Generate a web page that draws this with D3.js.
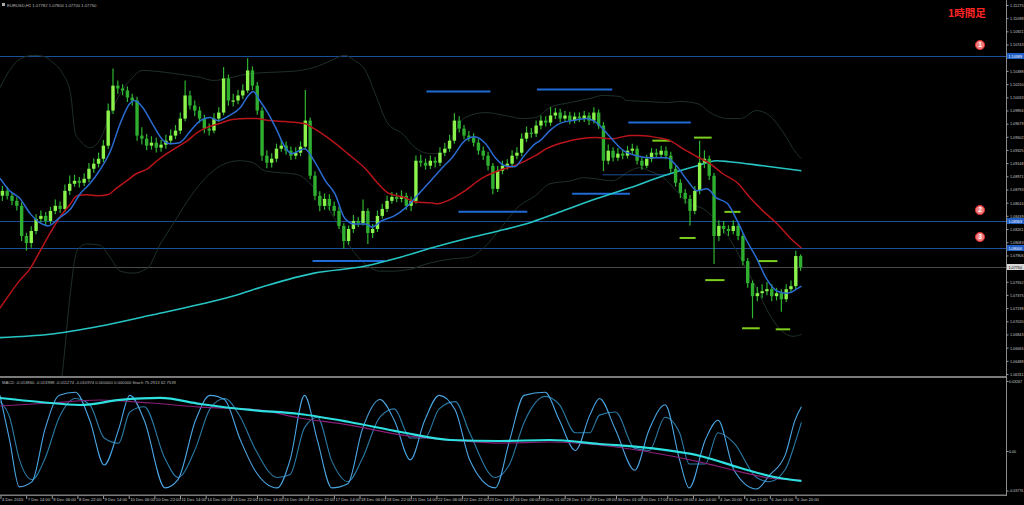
<!DOCTYPE html>
<html><head><meta charset="utf-8">
<script src="https://cdn.jsdelivr.net/npm/d3@7"></script>
<style>html,body{margin:0;padding:0;background:#000;overflow:hidden}</style>
</head><body><svg id="c" width="1024" height="505"></svg>
<script>
// ---------- DATA ----------
const symbolTitle = "EURUSD,H1  1.07782 1.07800 1.07700 1.07750";
const macdTitle = "MACD -0.013860 -0.013998 -0.011274 -0.010974 0.000000 0.000000  Stoch 75.2913 62.7539";
const timeframeText = "1時間足";
const barHours = 3;
const firstOpen = 1.0871;
const closes = [1.08775,1.08708,1.0864,1.08573,1.08168,1.08073,1.08235,1.08397,1.08438,1.0837,
1.08505,1.08573,1.08532,1.08775,1.0887,1.0891,1.08883,1.08937,1.09072,1.0914,
1.09207,1.09383,1.09855,1.1019,1.10152,1.10125,1.1003,1.0999,1.09518,1.09477,
1.09383,1.09423,1.09356,1.09396,1.0945,1.09518,1.09585,1.09747,1.10058,1.09923,
1.09855,1.09747,1.09612,1.09585,1.09747,1.09828,1.10287,1.0999,1.0999,1.10058,
1.10125,1.10395,1.1019,1.09855,1.09248,1.09153,1.09207,1.09342,1.09383,1.09315,
1.09248,1.09288,1.09369,1.0972,1.08978,1.08708,1.08573,1.08667,1.08573,1.08505,
1.08303,1.081,1.08262,1.0837,1.08343,1.08505,1.08208,1.08262,1.08438,1.08532,
1.0864,1.08694,1.08667,1.08708,1.08573,1.0864,1.0918,1.09153,1.09113,1.0918,
1.09153,1.09288,1.09342,1.0945,1.0972,1.09612,1.09518,1.09491,1.09423,1.09315,
1.09248,1.09113,1.08802,1.09045,1.09113,1.0914,1.09248,1.09288,1.09477,1.09558,
1.09545,1.09653,1.0972,1.09693,1.09788,1.09828,1.09747,1.09788,1.0972,1.09774,
1.09747,1.09788,1.0972,1.09828,1.09653,1.0918,1.09315,1.09221,1.09275,1.09248,
1.09315,1.09342,1.0918,1.09113,1.09207,1.09288,1.09261,1.09315,1.09248,1.09072,
1.08883,1.08748,1.08667,1.08505,1.08775,1.09153,1.09207,1.08978,1.08168,1.08303,
1.08262,1.08235,1.08303,1.08168,1.0783,1.07533,1.07358,1.07398,1.07425,1.07452,
1.07358,1.07398,1.07317,1.07452,1.07493,1.07898,1.0775];
const highs = [1.0884,1.0883,1.0876,1.0869,1.0862,1.0821,1.0830,1.0846,1.0851,1.0849,
1.0856,1.0866,1.0863,1.0886,1.0898,1.0899,1.0896,1.0901,1.0915,1.0921,
1.0929,1.0946,1.0995,1.1042,1.1026,1.1021,1.1018,1.1008,1.1004,1.0963,
1.0954,1.0951,1.0949,1.0946,1.0953,1.0960,1.0966,1.0983,1.1026,1.1012,
1.0999,1.0991,1.0980,1.0968,1.0982,1.0990,1.1044,1.1034,1.1008,1.1013,
1.1021,1.1056,1.1045,1.1024,1.0990,1.0932,1.0928,1.0941,1.0946,1.0944,
1.0937,1.0936,1.0944,1.1013,1.0976,1.0904,1.0877,1.0874,1.0873,1.0863,
1.0856,1.0834,1.0831,1.0845,1.0842,1.0866,1.0854,1.0833,1.0851,1.0860,
1.0871,1.0876,1.0875,1.0878,1.0875,1.0870,1.0925,1.0926,1.0921,1.0925,
1.0923,1.0936,1.0942,1.0953,1.0982,1.0978,1.0966,1.0958,1.0955,1.0947,
1.0937,1.0930,1.0915,1.0911,1.0918,1.0920,1.0932,1.0936,1.0955,1.0964,
1.0962,1.0972,1.0979,1.0978,1.0990,1.0989,1.0988,1.0985,1.0984,1.0983,
1.0983,1.0985,1.0983,1.0990,1.0987,1.0970,1.0940,1.0936,1.0935,1.0933,
1.0938,1.0941,1.0938,1.0923,1.0926,1.0935,1.0934,1.0938,1.0937,1.0930,
1.0912,1.0893,1.0880,1.0872,1.0884,1.0945,1.0932,1.0925,1.0902,1.0838,
1.0837,1.0831,1.0838,1.0834,1.0820,1.0787,1.0757,1.0748,1.0752,1.0755,
1.0752,1.0747,1.0745,1.0752,1.0757,1.0797,1.0792];
const lows = [1.0864,1.0866,1.0858,1.0851,1.0810,1.0797,1.0801,1.0819,1.0835,1.0831,
1.0833,1.0846,1.0848,1.0849,1.0872,1.0883,1.0882,1.0884,1.0889,1.0902,
1.0909,1.0916,1.0934,1.0981,1.1008,1.1006,1.0997,1.0992,1.0945,1.0940,
1.0932,1.0933,1.0929,1.0930,1.0934,1.0940,1.0947,1.0954,1.0971,1.0987,
1.0978,1.0969,1.0955,1.0952,1.0955,1.0970,1.0979,1.0992,1.0991,1.0994,
1.1001,1.1009,1.1013,1.0980,1.0918,1.0908,1.0909,1.0916,1.0930,1.0926,
1.0919,1.0920,1.0924,1.0933,1.0893,1.0865,1.0850,1.0852,1.0851,1.0844,
1.0826,1.0800,1.0805,1.0821,1.0829,1.0831,1.0806,1.0814,1.0822,1.0840,
1.0849,1.0860,1.0862,1.0862,1.0852,1.0850,1.0860,1.0910,1.0906,1.0907,
1.0909,1.0911,1.0924,1.0930,1.0941,1.0956,1.0947,1.0944,1.0937,1.0926,
1.0919,1.0905,1.0873,1.0876,1.0900,1.0906,1.0909,1.0920,1.0924,1.0943,
1.0949,1.0950,1.0960,1.0964,1.0965,1.0974,1.0970,1.0971,1.0967,1.0968,
1.0970,1.0970,1.0966,1.0968,1.0961,1.0904,1.0913,1.0917,1.0918,1.0920,
1.0921,1.0927,1.0913,1.0906,1.0908,1.0916,1.0922,1.0922,1.0920,1.0902,
1.0883,1.0868,1.0860,1.0831,1.0846,1.0873,1.0908,1.0892,1.0779,1.0810,
1.0820,1.0817,1.0819,1.0811,1.0777,1.0747,1.0706,1.0729,1.0733,1.0737,
1.0729,1.0730,1.0715,1.0728,1.0740,1.0745,1.0770];

// moving averages: [hour index, price]
const maFast = [[0,1.08945],[6,1.08775],[12,1.08681],[19,1.08465],[25,1.08343],[30,1.08303],[37,1.0841],[44,1.08532],[50,1.08735],[56,1.0887],[62,1.09045],[69,1.09315],[75,1.0968],[81,1.0995],[84,1.0999],[89,1.09896],[95,1.0968],[102,1.0945],[106,1.0941],[112,1.09423],[119,1.09585],[125,1.0972],[131,1.0976],[136,1.0972],[143,1.09788],[150,1.09896],[155,1.10058],[158,1.10112],[162,1.0999],[167,1.09828],[172,1.09626],[178,1.09356],[182,1.09275],[190,1.09342],[197,1.0914],[203,1.0891],[209,1.08735],[215,1.0841],[221,1.0833],[228,1.0833],[232,1.08289],[238,1.0837],[246,1.08438],[253,1.08546],[259,1.08681],[267,1.0887],[276,1.09086],[282,1.09221],[290,1.0945],[296,1.09504],[303,1.09409],[309,1.09221],[315,1.09113],[321,1.09099],[327,1.09248],[334,1.09409],[337,1.0945],[343,1.09585],[349,1.0968],[357,1.0972],[366,1.09747],[372,1.09693],[381,1.09491],[389,1.09315],[397,1.09248],[405,1.09221],[416,1.09221],[422,1.09113],[429,1.0891],[435,1.08775],[441,1.08802],[447,1.08681],[454,1.086],[460,1.0837],[466,1.081],[472,1.07871],[478,1.07601],[485,1.07425],[491,1.07398],[497,1.07452],[500,1.07493]];
const maMid = [[0,1.07196],[6,1.07385],[12,1.0756],[19,1.07735],[25,1.07965],[31,1.08195],[37,1.0841],[44,1.086],[48,1.08708],[54,1.08721],[61,1.08708],[67,1.08721],[73,1.08816],[79,1.0891],[85,1.09005],[92,1.09072],[98,1.0918],[104,1.09275],[110,1.09356],[117,1.0945],[123,1.09558],[129,1.09626],[137,1.0968],[145,1.09734],[154,1.09747],[160,1.09747],[168,1.0972],[178,1.09707],[190,1.0968],[196,1.09612],[207,1.0945],[217,1.09275],[228,1.09072],[236,1.0887],[242,1.08748],[253,1.08681],[259,1.08626],[269,1.08613],[273,1.086],[279,1.0864],[290,1.08775],[301,1.0895],[311,1.09045],[321,1.09113],[334,1.09248],[341,1.09342],[351,1.09423],[362,1.09477],[372,1.09491],[382,1.09477],[393,1.09518],[399,1.09518],[410,1.09491],[418,1.0945],[426,1.09342],[435,1.09234],[443,1.0914],[451,1.09005],[460,1.08883],[468,1.08681],[476,1.08505],[485,1.0833],[493,1.08141],[500,1.08006]];
const maSlow = [[0,1.068],[31,1.06845],[62,1.06953],[94,1.07101],[125,1.07249],[145,1.07358],[167,1.07506],[196,1.07668],[228,1.07763],[248,1.07871],[269,1.08006],[290,1.08127],[311,1.08235],[332,1.08357],[351,1.08505],[372,1.08667],[393,1.08816],[414,1.08978],[435,1.09113],[447,1.0918],[455,1.09167],[476,1.09113],[500,1.09045]];
const bbUpper = [[0,1.10166],[6,1.10395],[12,1.10544],[21,1.10598],[27,1.10584],[33,1.10503],[39,1.10355],[44,1.10085],[47,1.09545],[50,1.0945],[56,1.09356],[62,1.0945],[69,1.09815],[75,1.10085],[81,1.1026],[89,1.10395],[98,1.10382],[108,1.10355],[117,1.10328],[125,1.10301],[133,1.1026],[142,1.10287],[150,1.10328],[158,1.10355],[167,1.10368],[182,1.10382],[196,1.10436],[207,1.1053],[215,1.10598],[221,1.1053],[228,1.10395],[234,1.10085],[242,1.0968],[251,1.09545],[259,1.09356],[269,1.09275],[276,1.09275],[282,1.09491],[290,1.0976],[303,1.09828],[315,1.09788],[326,1.09747],[334,1.0976],[343,1.09896],[356,1.09963],[368,1.10017],[376,1.10058],[387,1.10044],[391,1.0999],[404,1.09977],[416,1.09963],[424,1.09977],[435,1.0995],[443,1.09828],[454,1.09747],[462,1.09747],[472,1.09855],[480,1.09788],[488,1.09585],[497,1.09275],[500,1.09207]];
const bbLower = [[34,1.0567],[39,1.06345],[44,1.07425],[48,1.07965],[54,1.0806],[62,1.08046],[69,1.07871],[75,1.07695],[83,1.07668],[92,1.07735],[100,1.0806],[108,1.0833],[117,1.0864],[125,1.0887],[133,1.09045],[142,1.09153],[150,1.0918],[158,1.09153],[165,1.09045],[186,1.08991],[193,1.08883],[206,1.08505],[218,1.08033],[228,1.07789],[237,1.07695],[246,1.07695],[256,1.07722],[268,1.07803],[281,1.07857],[293,1.07884],[303,1.08033],[312,1.08262],[324,1.08573],[334,1.08708],[343,1.0887],[356,1.0891],[364,1.08951],[372,1.08937],[382,1.0891],[393,1.09045],[399,1.09086],[405,1.09045],[414,1.08951],[422,1.08775],[430,1.086],[439,1.08532],[447,1.0837],[455,1.0814],[463,1.0783],[472,1.07466],[480,1.07115],[488,1.06885],[495,1.06818],[500,1.06845]];

// horizontal levels
const levelPrices = [1.10589, 1.08369, 1.08006];
const levelMarks = ["1", "2", "3"];
const currentPrice = 1.0775;
// short zone segments: [startHour, endHour, price]
const blueSegments = [[266,306,1.10112],[286,329,1.08492],[195,240,1.0783],[335,382,1.10139],[392,431,1.09693],[357,393,1.08735]];
const thinSegments = [[376,418,1.08991]];
const limeSegments = [[407,418,1.0945],[433,444,1.09491],[452,462,1.08492],[424,434,1.08141],[473,485,1.0783],[440,452,1.07574],[463,474,1.06926],[484,493,1.06912]];

// price axis ticks
const priceTicks = [1.11275,1.11098,1.10921,1.10743,1.10566,1.10388,1.10210,1.10033,1.09856,1.09679,1.09502,1.09325,1.09148,1.08971,1.08793,1.08616,1.08439,1.08261,1.08083,1.07906,1.07729,1.07552,1.07375,1.07198,1.07020,1.06843,1.06665,1.06488,1.06311];
const timeLabels = ["4 Dec 2015","7 Dec 14:00","8 Dec 06:00","8 Dec 22:00","9 Dec 14:00","10 Dec 06:00","10 Dec 22:00","11 Dec 14:00","14 Dec 06:00","14 Dec 22:00","15 Dec 14:00","16 Dec 06:00","16 Dec 22:00","17 Dec 14:00","18 Dec 06:00","18 Dec 22:00","21 Dec 14:00","22 Dec 06:00","22 Dec 22:00","23 Dec 14:00","24 Dec 06:00","28 Dec 01:00","28 Dec 17:00","29 Dec 09:00","30 Dec 01:00","30 Dec 17:00","31 Dec 09:00","4 Jan 04:00","4 Jan 20:00","5 Jan 12:00","6 Jan 04:00","6 Jan 20:00"];
const timeLabelStep = 16;

// oscillator panel
const macdMain = [[0,0.02475],[25,0.02288],[50,0.02148],[75,0.02382],[100,0.02475],[125,0.02195],[156,0.01915],[187,0.01728],[218,0.01354],[250,0.00887],[281,0.00514],[312,0.00467],[343,0.00514],[374,0.00327],[405,0.0014],[437,-0.00439],[462,-0.01493],[480,-0.02195],[500,-0.02634]];
const macdSignal = [[0,0.0210],[31,0.0224],[62,0.0238],[94,0.0224],[125,0.0205],[162,0.0191],[187,0.0154],[218,0.0121],[250,0.0075],[281,0.0051],[312,0.0037],[343,0.0042],[374,0.0028],[405,-0.0009],[437,-0.0097],[462,-0.0184],[480,-0.0237],[500,-0.0255]];
const stochK = [[0,91],[6,48],[12,3],[20,8],[28,58],[37,91],[47,94],[56,67],[65,24],[74,58],[81,91],[90,67],[103,2],[111,10],[122,67],[131,91],[140,87],[150,48],[159,19],[173,2],[181,29],[190,91],[198,48],[207,2],[217,6],[226,58],[237,87],[246,67],[256,29],[265,67],[274,91],[284,77],[293,29],[309,2],[318,48],[327,91],[340,94],[349,67],[359,38],[368,72],[374,88],[384,58],[396,19],[405,58],[415,82],[424,29],[430,2],[440,48],[448,67],[458,19],[472,1],[480,14],[490,34],[496,67],[500,80]];
const stochD = [[0,85],[6,70],[12,30],[20,10],[28,30],[37,70],[47,88],[56,82],[65,50],[74,45],[81,75],[90,80],[103,30],[111,12],[122,40],[131,78],[140,88],[150,70],[159,40],[173,12],[181,15],[190,60],[198,70],[207,28],[217,8],[226,30],[237,70],[246,78],[256,50],[265,50],[274,78],[284,85],[293,55],[309,12],[318,25],[327,65],[340,90],[349,82],[359,55],[368,55],[374,72],[384,75],[396,40],[405,38],[415,70],[424,55],[430,25],[440,25],[448,55],[458,45],[472,12],[480,8],[490,20],[496,45],[500,65]];
const oscTicks = [0.03267, 0, -0.03776];
const oscTickLabels = ["0.03267", "0.00", "-0.03776"];

// ---------- DRAW ----------
const svg = d3.select("#c");
const axisX = 1006;
svg.append("rect").attr("width",1024).attr("height",505).attr("fill","#000");
const defs = svg.append("defs");
defs.append("clipPath").attr("id","cm").append("rect").attr("x",0).attr("y",0).attr("width",axisX).attr("height",376);
defs.append("clipPath").attr("id","co").append("rect").attr("x",0).attr("y",379).attr("width",axisX).attr("height",115);

const x = d3.scaleLinear().domain([0, 501]).range([0, 803]);
const y = d3.scaleLinear().domain([1.06311, 1.11275]).range([374, 5]);
const yo = d3.scaleLinear().domain([-0.03776, 0, 0.03267]).range([494, 451, 381]);
const ys = d3.scaleLinear().domain([0, 100]).range([490, 386]);

const font = "Liberation Sans, Arial, sans-serif";
const main = svg.append("g").attr("clip-path","url(#cm)");

// level lines
main.selectAll("line.lvl").data(levelPrices).join("line")
  .attr("x1",0).attr("x2",axisX).attr("y1",d=>Math.round(y(d))+0.5).attr("y2",d=>Math.round(y(d))+0.5)
  .attr("stroke","#1b4f98").attr("stroke-width",1);
main.append("line").attr("x1",0).attr("x2",axisX)
  .attr("y1",Math.round(y(currentPrice))+0.5).attr("y2",Math.round(y(currentPrice))+0.5)
  .attr("stroke","#4a4a4a").attr("stroke-width",1);

const line = d3.line().x(d=>x(d[0])).y(d=>y(d[1])).curve(d3.curveMonotoneX);
main.append("path").attr("d",line(bbUpper)).attr("fill","none").attr("stroke","#1e3129").attr("stroke-width",1);
main.append("path").attr("d",line(bbLower)).attr("fill","none").attr("stroke","#1e3129").attr("stroke-width",1);

// segments
main.selectAll("line.bs").data(blueSegments).join("line")
  .attr("x1",d=>x(d[0])).attr("x2",d=>x(d[1])).attr("y1",d=>y(d[2])).attr("y2",d=>y(d[2]))
  .attr("stroke","#1f6ad4").attr("stroke-width",2);
main.selectAll("line.ts").data(thinSegments).join("line")
  .attr("x1",d=>x(d[0])).attr("x2",d=>x(d[1])).attr("y1",d=>y(d[2])).attr("y2",d=>y(d[2]))
  .attr("stroke","#1b4f98").attr("stroke-width",1);
main.selectAll("line.ls").data(limeSegments).join("line")
  .attr("x1",d=>x(d[0])).attr("x2",d=>x(d[1])).attr("y1",d=>y(d[2])).attr("y2",d=>y(d[2]))
  .attr("stroke","#7ccf1c").attr("stroke-width",2);

// slow MA
main.append("path").attr("d",line(maSlow)).attr("fill","none").attr("stroke","#27c4c4").attr("stroke-width",1.6);

// candles
const bars = closes.map((c,i)=>({t:i*barHours, o: i ? closes[i-1] : firstOpen, c, h: highs[i], l: lows[i]}));
const cg = main.append("g");
cg.selectAll("line").data(bars).join("line")
  .attr("x1",d=>x(d.t+barHours/2)).attr("x2",d=>x(d.t+barHours/2))
  .attr("y1",d=>y(d.h)).attr("y2",d=>y(d.l))
  .attr("stroke","#2fb52f").attr("stroke-width",1.2);
cg.selectAll("rect").data(bars).join("rect")
  .attr("x",d=>x(d.t+barHours/2)-1.7).attr("width",3.4)
  .attr("y",d=>y(Math.max(d.o,d.c))).attr("height",d=>Math.max(1.2,Math.abs(y(d.o)-y(d.c))))
  .attr("fill",d=>d.c>=d.o ? "#8cf24c" : "#2fae2f");

main.append("path").attr("d",line(maMid)).attr("fill","none").attr("stroke","#b8141a").attr("stroke-width",1.5);
main.append("path").attr("d",line(maFast)).attr("fill","none").attr("stroke","#2a6cd2").attr("stroke-width",1.5);

// circled marks
const mk = main.selectAll("g.mk").data(levelPrices).join("g").attr("transform",d=>`translate(980,${y(d)-11})`);
mk.append("circle").attr("r",4.6).attr("fill","#f27a7a").attr("stroke","#e02a2a").attr("stroke-width",1);
mk.append("text").text((d,i)=>levelMarks[i]).attr("text-anchor","middle").attr("dy",2.4)
  .attr("font-family",font).attr("font-size",6.5).attr("font-weight","bold").attr("fill","#fff");

svg.append("text").text(timeframeText).attr("x",948).attr("y",17)
  .attr("font-family","Noto Sans CJK JP").attr("font-size",10.5).attr("font-weight","bold").attr("fill","#ff2525");

// title
svg.append("rect").attr("x",2).attr("y",3).attr("width",3).attr("height",3).attr("fill","#aaa");
svg.append("text").text(symbolTitle).attr("x",7).attr("y",6.5).attr("font-family",font).attr("font-size",4.2).attr("fill","#b8b8b8");

// separators and axis line
svg.append("rect").attr("x",0).attr("y",376).attr("width",axisX).attr("height",2).attr("fill","#7a7a7a");
svg.append("rect").attr("x",0).attr("y",494.5).attr("width",axisX+1).attr("height",1.5).attr("fill","#7a7a7a");
svg.append("line").attr("x1",axisX+0.5).attr("x2",axisX+0.5).attr("y1",0).attr("y2",496).attr("stroke","#8a8a8a");

// price axis (labels hidden under highlighted boxes are skipped, as in the reference)
const boxed = levelPrices.concat([currentPrice]).map(p=>y(p));
const visibleTicks = priceTicks.filter(t=>boxed.every(b=>Math.abs(y(t)-b)>4));
const pa = svg.append("g").attr("transform",`translate(${axisX+0.5},0)`)
  .call(d3.axisRight(y).tickValues(visibleTicks).tickSize(2).tickPadding(1.5).tickFormat(d=>d.toFixed(5)));
pa.select(".domain").remove();
pa.selectAll("line").attr("stroke","#9a9a9a");
pa.selectAll("text").attr("font-family",font).attr("font-size",4.2).attr("fill","#c8c8c8")
  .attr("textLength",13.5).attr("lengthAdjust","spacingAndGlyphs");

// highlighted level labels
const hl = svg.selectAll("g.hl").data(levelPrices).join("g").attr("transform",d=>`translate(${axisX+1},${Math.round(y(d))})`);
hl.append("rect").attr("x",0).attr("y",-3).attr("width",17).attr("height",6).attr("fill","#1f5cc4");
hl.append("text").text(d=>d.toFixed(5)).attr("x",1.5).attr("y",1.5).attr("font-family",font).attr("font-size",4.2)
  .attr("fill","#fff").attr("textLength",13.5).attr("lengthAdjust","spacingAndGlyphs");
const cp = svg.append("g").attr("transform",`translate(${axisX+1},${Math.round(y(currentPrice))})`);
cp.append("rect").attr("x",0).attr("y",-3).attr("width",17).attr("height",6).attr("fill","#d8d8d8");
cp.append("text").text(currentPrice.toFixed(5)).attr("x",1.5).attr("y",1.5).attr("font-family",font).attr("font-size",4.2)
  .attr("fill","#000").attr("textLength",13.5).attr("lengthAdjust","spacingAndGlyphs");

// oscillator panel
const osc = svg.append("g").attr("clip-path","url(#co)");
const oline = d3.line().x(d=>x(d[0])).y(d=>yo(d[1])).curve(d3.curveMonotoneX);
const sline = d3.line().x(d=>x(d[0])).y(d=>ys(d[1])).curve(d3.curveMonotoneX);
osc.append("path").attr("d",sline(stochD)).attr("fill","none").attr("stroke","#2a7aa6").attr("stroke-width",1.1);
osc.append("path").attr("d",sline(stochK)).attr("fill","none").attr("stroke","#4aa6e4").attr("stroke-width",1.1);
osc.append("path").attr("d",oline(macdSignal)).attr("fill","none").attr("stroke","#8a1f7a").attr("stroke-width",1.2);
osc.append("path").attr("d",oline(macdMain)).attr("fill","none").attr("stroke","#2ee0e0").attr("stroke-width",2.2);
svg.append("text").text(macdTitle).attr("x",2).attr("y",384).attr("font-family",font).attr("font-size",4.2).attr("fill","#b8b8b8");

const oa = svg.append("g").attr("transform",`translate(${axisX+0.5},0)`)
  .call(d3.axisRight(yo).tickValues(oscTicks).tickSize(2).tickPadding(0.5).tickFormat((d,i)=>oscTickLabels[i]));
oa.select(".domain").remove();
oa.selectAll("line").attr("stroke","#9a9a9a");
oa.selectAll("text").attr("font-family",font).attr("font-size",3.6).attr("fill","#c8c8c8");
oa.selectAll(".tick").filter((d,i)=>i===2).attr("transform",`translate(0,${yo(-0.03776)-3})`);

// time axis
const tv = timeLabels.map((d,i)=>i*timeLabelStep);
const ta = svg.append("g").attr("transform","translate(0,496)")
  .call(d3.axisBottom(x).tickValues(tv).tickSize(3).tickFormat((d,i)=>timeLabels[i]));
ta.select(".domain").remove();
ta.selectAll("line").attr("stroke","#9a9a9a").attr("transform","translate(0.5,0)");
ta.selectAll("text").attr("text-anchor","start").attr("dx",1.5).attr("y",2).attr("dy","0.71em")
  .attr("font-family",font).attr("font-size",4.2).attr("fill","#c8c8c8");
</script></body></html>
